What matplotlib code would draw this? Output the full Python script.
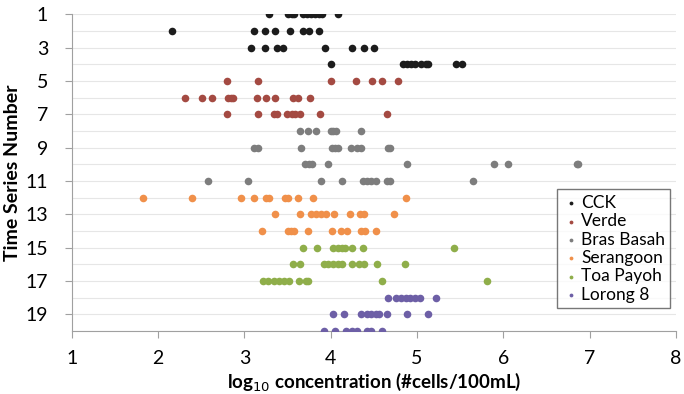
import matplotlib
matplotlib.use("Agg")
import matplotlib.pyplot as plt

plt.rcParams['font.family'] = ['Lato', 'DejaVu Sans']

series_names = ["CCK", "Verde", "Bras Basah", "Serangoon", "Toa Payoh", "Lorong 8"]
colors = ["#1c1c1c", "#a44a42", "#7d7d7d", "#f0904a", "#8fae4a", "#6d5fa6"]

# values per time series number (row -> list of log10 concentrations)
row1 = [3.28, 3.50, 3.55, 3.58, 3.68, 3.72, 3.77, 3.82, 3.86, 3.90, 4.09]
row2 = [2.16, 3.11, 3.24, 3.36, 3.53, 3.68, 3.75, 3.86]
row3 = [3.08, 3.24, 3.38, 3.45, 3.93, 4.25, 4.39, 4.50]
row4 = [4.00, 4.84, 4.88, 4.93, 4.98, 5.05, 5.10, 5.13, 5.45, 5.52]
row5 = [2.80, 3.16, 4.00, 4.29, 4.48, 4.60, 4.78]
row6 = [2.31, 2.51, 2.63, 2.81, 2.84, 2.87, 3.15, 3.25, 3.35, 3.56, 3.62, 3.76]
row7 = [2.80, 3.16, 3.34, 3.38, 3.49, 3.55, 3.59, 3.64, 3.88, 4.65]
row8 = [3.64, 3.74, 3.83, 4.00, 4.03, 4.06, 4.35]
row9 = [3.11, 3.16, 3.66, 4.02, 4.05, 4.08, 4.23, 4.31, 4.35, 4.66, 4.69]
row10 = [3.70, 3.75, 3.78, 3.97, 4.89, 5.89, 6.05, 6.85, 6.87]
row11 = [2.58, 3.04, 3.89, 4.13, 4.37, 4.42, 4.47, 4.53, 4.65, 4.69, 5.65]
row12 = [1.82, 2.39, 2.96, 3.11, 3.25, 3.29, 3.47, 3.50, 3.62, 3.80, 4.87]
row13 = [3.35, 3.64, 3.77, 3.83, 3.89, 3.95, 4.04, 4.22, 4.34, 4.39, 4.73]
row14 = [3.20, 3.50, 3.54, 3.58, 3.74, 4.01, 4.12, 4.19, 4.35, 4.40, 4.53]
row15 = [3.68, 3.84, 4.03, 4.08, 4.13, 4.17, 4.25, 4.37, 5.43]
row16 = [3.56, 3.64, 3.92, 3.97, 4.03, 4.08, 4.13, 4.25, 4.33, 4.39, 4.54, 4.86]
row17 = [3.22, 3.27, 3.34, 3.40, 3.46, 3.52, 3.63, 3.71, 3.74, 4.60, 5.81]
row18 = [4.66, 4.76, 4.81, 4.87, 4.92, 4.98, 5.03, 5.22]
row19 = [4.03, 4.16, 4.35, 4.42, 4.47, 4.52, 4.56, 4.65, 4.89, 5.13]
row20 = [3.92, 4.05, 4.18, 4.25, 4.30, 4.42, 4.47, 4.59]

rows = [row1, row2, row3, row4, row5, row6, row7, row8, row9, row10,
        row11, row12, row13, row14, row15, row16, row17, row18, row19, row20]
# which series each row belongs to (rows 1-4 CCK, 5-7 Verde, ...)
row_series = [0, 0, 0, 0, 1, 1, 1, 2, 2, 2, 2, 3, 3, 3, 4, 4, 4, 5, 5, 5]

x_ticks = [1, 2, 3, 4, 5, 6, 7, 8]
y_ticks = [1, 3, 5, 7, 9, 11, 13, 15, 17, 19]

fig = plt.figure(figsize=(6.84, 3.94), dpi=100)
ax = fig.add_axes([0.105, 0.160, 0.883, 0.804])

for s, name in enumerate(series_names):
    xs, ys = [], []
    for r, vals in enumerate(rows):
        if row_series[r] == s:
            xs += vals
            ys += [r + 1] * len(vals)
    ax.scatter(xs, ys, s=30, color=colors[s], label=name, linewidths=0, zorder=3)

ax.set_xlim(1, 8)
ax.set_ylim(20, 1)
ax.set_xticks(x_ticks)
ax.set_yticks(y_ticks)
ax.set_yticks(range(1, 21), minor=True)
ax.tick_params(axis='y', which='minor', length=0)
ax.grid(axis='y', which='both', color='#e6e6e6', linewidth=0.8, zorder=0)
ax.tick_params(axis='both', labelsize=14, color='#a0a0a0', length=5)
ax.tick_params(axis='x', direction='out', pad=9)
ax.tick_params(axis='y', direction='out', pad=12)

for side in ['top', 'right']:
    ax.spines[side].set_visible(False)
for side in ['left', 'bottom']:
    ax.spines[side].set_color('#a0a0a0')

ax.set_xlabel("log$_{10}$ concentration (#cells/100mL)", fontsize=13.5, fontweight='bold', labelpad=2)
ax.set_ylabel("Time Series Number", fontsize=14, fontweight='bold', labelpad=3)

leg = ax.legend(loc='lower right', bbox_to_anchor=(1.005, 0.045), fontsize=12.5, markerscale=0.5,
                handletextpad=0.1, handlelength=1.0, borderpad=0.3, labelspacing=0.14,
                frameon=True, fancybox=False, edgecolor='#555555')
leg.get_frame().set_linewidth(1.0)

fig.savefig("out.png", dpi=100)
